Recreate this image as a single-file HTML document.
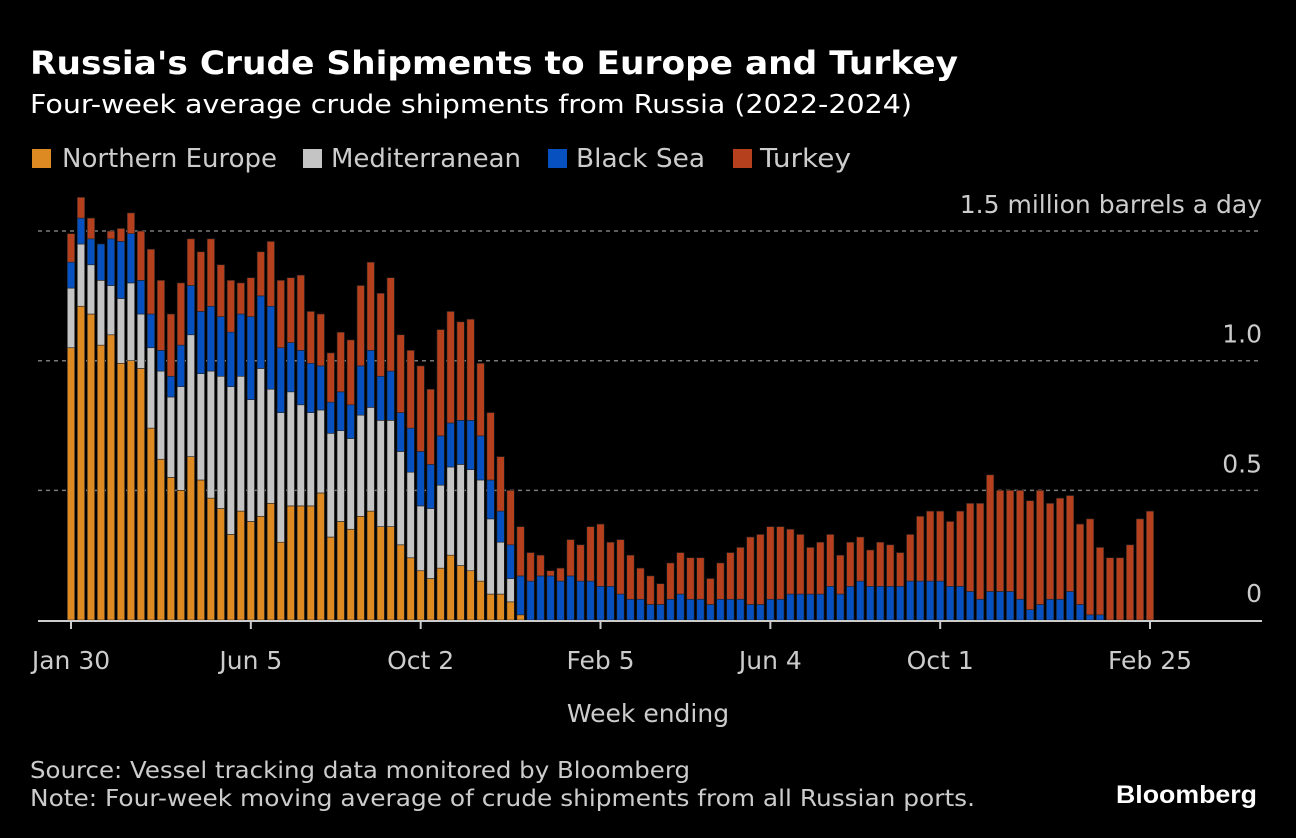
<!DOCTYPE html>
<html><head><meta charset="utf-8"><style>
html,body{margin:0;padding:0;background:#000;}
svg{display:block;font-family:"DejaVu Sans","Liberation Sans",sans-serif;}
</style></head><body>
<svg id="chart" width="1296" height="838" viewBox="0 0 1296 838" xmlns="http://www.w3.org/2000/svg">
<rect width="1296" height="838" fill="#000"/>
<text x="30" y="74" fill="#fff" font-weight="bold" font-size="32" textLength="928" lengthAdjust="spacingAndGlyphs">Russia's Crude Shipments to Europe and Turkey</text>
<text x="30" y="113" fill="#fff" font-size="26" textLength="882" lengthAdjust="spacingAndGlyphs">Four-week average crude shipments from Russia (2022-2024)</text>
<g>
<g><rect x="32" y="149" width="19" height="19" fill="#dd8a23"/><text x="62" y="167" fill="#ccc" font-size="26" textLength="215" lengthAdjust="spacingAndGlyphs">Northern Europe</text></g>
<g><rect x="303" y="149" width="19" height="19" fill="#c4c4c4"/><text x="331" y="167" fill="#ccc" font-size="26" textLength="190" lengthAdjust="spacingAndGlyphs">Mediterranean</text></g>
<g><rect x="548" y="149" width="19" height="19" fill="#0651bf"/><text x="576" y="167" fill="#ccc" font-size="26" textLength="129" lengthAdjust="spacingAndGlyphs">Black Sea</text></g>
<g><rect x="733" y="149" width="19" height="19" fill="#b5401e"/><text x="760" y="167" fill="#ccc" font-size="26" textLength="91" lengthAdjust="spacingAndGlyphs">Turkey</text></g>
</g>
<g id="grid"></g>
<g id="bars"></g>
<g id="axis"></g>
<text x="648" y="722" fill="#ccc" font-size="25" text-anchor="middle">Week ending</text>
<text x="30" y="778" fill="#ccc" font-size="23" textLength="660" lengthAdjust="spacingAndGlyphs">Source: Vessel tracking data monitored by Bloomberg</text>
<text x="30" y="806" fill="#ccc" font-size="23" textLength="945" lengthAdjust="spacingAndGlyphs">Note: Four-week moving average of crude shipments from all Russian ports.</text>
<text x="1116" y="803" fill="#fff" font-size="25" font-weight="bold" font-family="Liberation Sans, sans-serif" textLength="141" lengthAdjust="spacingAndGlyphs">Bloomberg</text>
</svg>
<script>
const northernEurope=[1.05,1.21,1.18,1.06,1.10,0.99,1.00,0.97,0.74,0.62,0.55,0.50,0.63,0.54,0.47,0.43,0.33,0.42,0.38,0.40,0.45,0.30,0.44,0.44,0.44,0.49,0.32,0.38,0.35,0.40,0.42,0.36,0.36,0.29,0.24,0.19,0.16,0.20,0.25,0.21,0.19,0.15,0.10,0.10,0.07,0.02,0,0,0,0,0,0,0,0,0,0,0,0,0,0,0,0,0,0,0,0,0,0,0,0,0,0,0,0,0,0,0,0,0,0,0,0,0,0,0,0,0,0,0,0,0,0,0,0,0,0,0,0,0,0,0,0,0,0,0,0,0,0,0];
const mediterranean=[0.23,0.24,0.19,0.25,0.19,0.25,0.30,0.21,0.31,0.34,0.31,0.40,0.47,0.41,0.49,0.51,0.57,0.52,0.47,0.57,0.44,0.50,0.44,0.39,0.36,0.32,0.40,0.35,0.35,0.39,0.40,0.41,0.41,0.36,0.33,0.25,0.27,0.32,0.34,0.39,0.39,0.39,0.29,0.20,0.09,0,0,0,0,0,0,0,0,0,0,0,0,0,0,0,0,0,0,0,0,0,0,0,0,0,0,0,0,0,0,0,0,0,0,0,0,0,0,0,0,0,0,0,0,0,0,0,0,0,0,0,0,0,0,0,0,0,0,0,0,0,0,0,0];
const blackSea=[0.10,0.10,0.10,0.14,0.18,0.22,0.19,0.13,0.13,0.08,0.08,0.16,0.19,0.24,0.25,0.23,0.21,0.24,0.32,0.28,0.32,0.25,0.19,0.21,0.19,0.17,0.12,0.15,0.13,0.19,0.22,0.17,0.19,0.15,0.17,0.21,0.17,0.19,0.17,0.17,0.19,0.17,0.15,0.12,0.13,0.15,0.15,0.17,0.17,0.15,0.17,0.15,0.15,0.13,0.13,0.10,0.08,0.08,0.06,0.06,0.08,0.10,0.08,0.08,0.06,0.08,0.08,0.08,0.06,0.06,0.08,0.08,0.10,0.10,0.10,0.10,0.13,0.10,0.13,0.15,0.13,0.13,0.13,0.13,0.15,0.15,0.15,0.15,0.13,0.13,0.11,0.08,0.11,0.11,0.11,0.08,0.04,0.06,0.08,0.08,0.11,0.06,0.02,0.02,0,0,0,0,0];
const turkey=[0.11,0.08,0.08,0,0.03,0.05,0.08,0.19,0.25,0.27,0.24,0.24,0.18,0.23,0.26,0.20,0.20,0.12,0.15,0.17,0.25,0.26,0.25,0.29,0.20,0.20,0.19,0.23,0.25,0.31,0.34,0.32,0.36,0.30,0.30,0.33,0.29,0.41,0.43,0.38,0.39,0.28,0.26,0.21,0.21,0.19,0.11,0.08,0.02,0.05,0.14,0.14,0.21,0.24,0.17,0.21,0.17,0.12,0.11,0.08,0.14,0.16,0.16,0.16,0.10,0.14,0.18,0.20,0.26,0.27,0.28,0.28,0.25,0.23,0.18,0.20,0.20,0.15,0.17,0.17,0.14,0.17,0.16,0.13,0.18,0.25,0.27,0.27,0.25,0.29,0.34,0.37,0.45,0.39,0.39,0.42,0.42,0.44,0.37,0.39,0.37,0.31,0.37,0.26,0.24,0.24,0.29,0.39,0.42];
const yTicks=[0,0.5,1.0,1.5];
const yTickLabels=["0","0.5","1.0","1.5 million barrels a day"];
const xTickIndex=[0,18,35,53,70,87,108];
const xTickLabels=["Jan 30","Jun 5","Oct 2","Feb 5","Jun 4","Oct 1","Feb 25"];

const NS="http://www.w3.org/2000/svg";
const y0=620, pxPerUnit=259.3, x0=71, step=(1150-71)/108, bw=7.4;
const yScale=v=>y0-v*pxPerUnit;
const xScale=i=>x0+i*step;
function mk(tag,attrs,parent){const e=document.createElementNS(NS,tag);for(const k in attrs)e.setAttribute(k,attrs[k]);parent.appendChild(e);return e;}
const grid=document.getElementById('grid'),bars=document.getElementById('bars'),axis=document.getElementById('axis');
yTicks.forEach((t,i)=>{
  if(t>0){const l=mk('line',{x1:38,x2:1262,y1:yScale(t),y2:yScale(t),stroke:'#7a7a7a','stroke-width':1.5,'stroke-dasharray':'4,4'},grid);
  
  }
  const tx=mk('text',{x:1262,y:yScale(t)-18,fill:'#ccc','font-size':25,'text-anchor':'end'},axis);
  tx.textContent=yTickLabels[i];
  
  
});
const series=[[northernEurope,'#dd8a23','northern-europe'],[mediterranean,'#c4c4c4','mediterranean'],[blackSea,'#0651bf','black-sea'],[turkey,'#b5401e','turkey']];
for(let i=0;i<northernEurope.length;i++){
  let base=0;
  series.forEach(([arr,col,nm])=>{
    const v=arr[i];if(!v)return;
    const r=mk('rect',{x:xScale(i)-bw/2,y:yScale(base+v),width:bw,height:v*pxPerUnit,fill:col,stroke:'#222','stroke-width':0.6},bars);
    
    
    base+=v;
  });
}
const bl=mk('line',{x1:38,x2:1262,y1:y0+1,y2:y0+1,stroke:'#ccc','stroke-width':2},axis);


xTickIndex.forEach((ix,i)=>{
  const x=xScale(ix);
  const t=mk('line',{x1:x,x2:x,y1:y0,y2:y0+9,stroke:'#ccc','stroke-width':2},axis);
  
  
  const tx=mk('text',{x:x,y:669,fill:'#ccc','font-size':25,'text-anchor':'middle'},axis);
  tx.textContent=xTickLabels[i];
  
  
});
</script>
</body></html>
